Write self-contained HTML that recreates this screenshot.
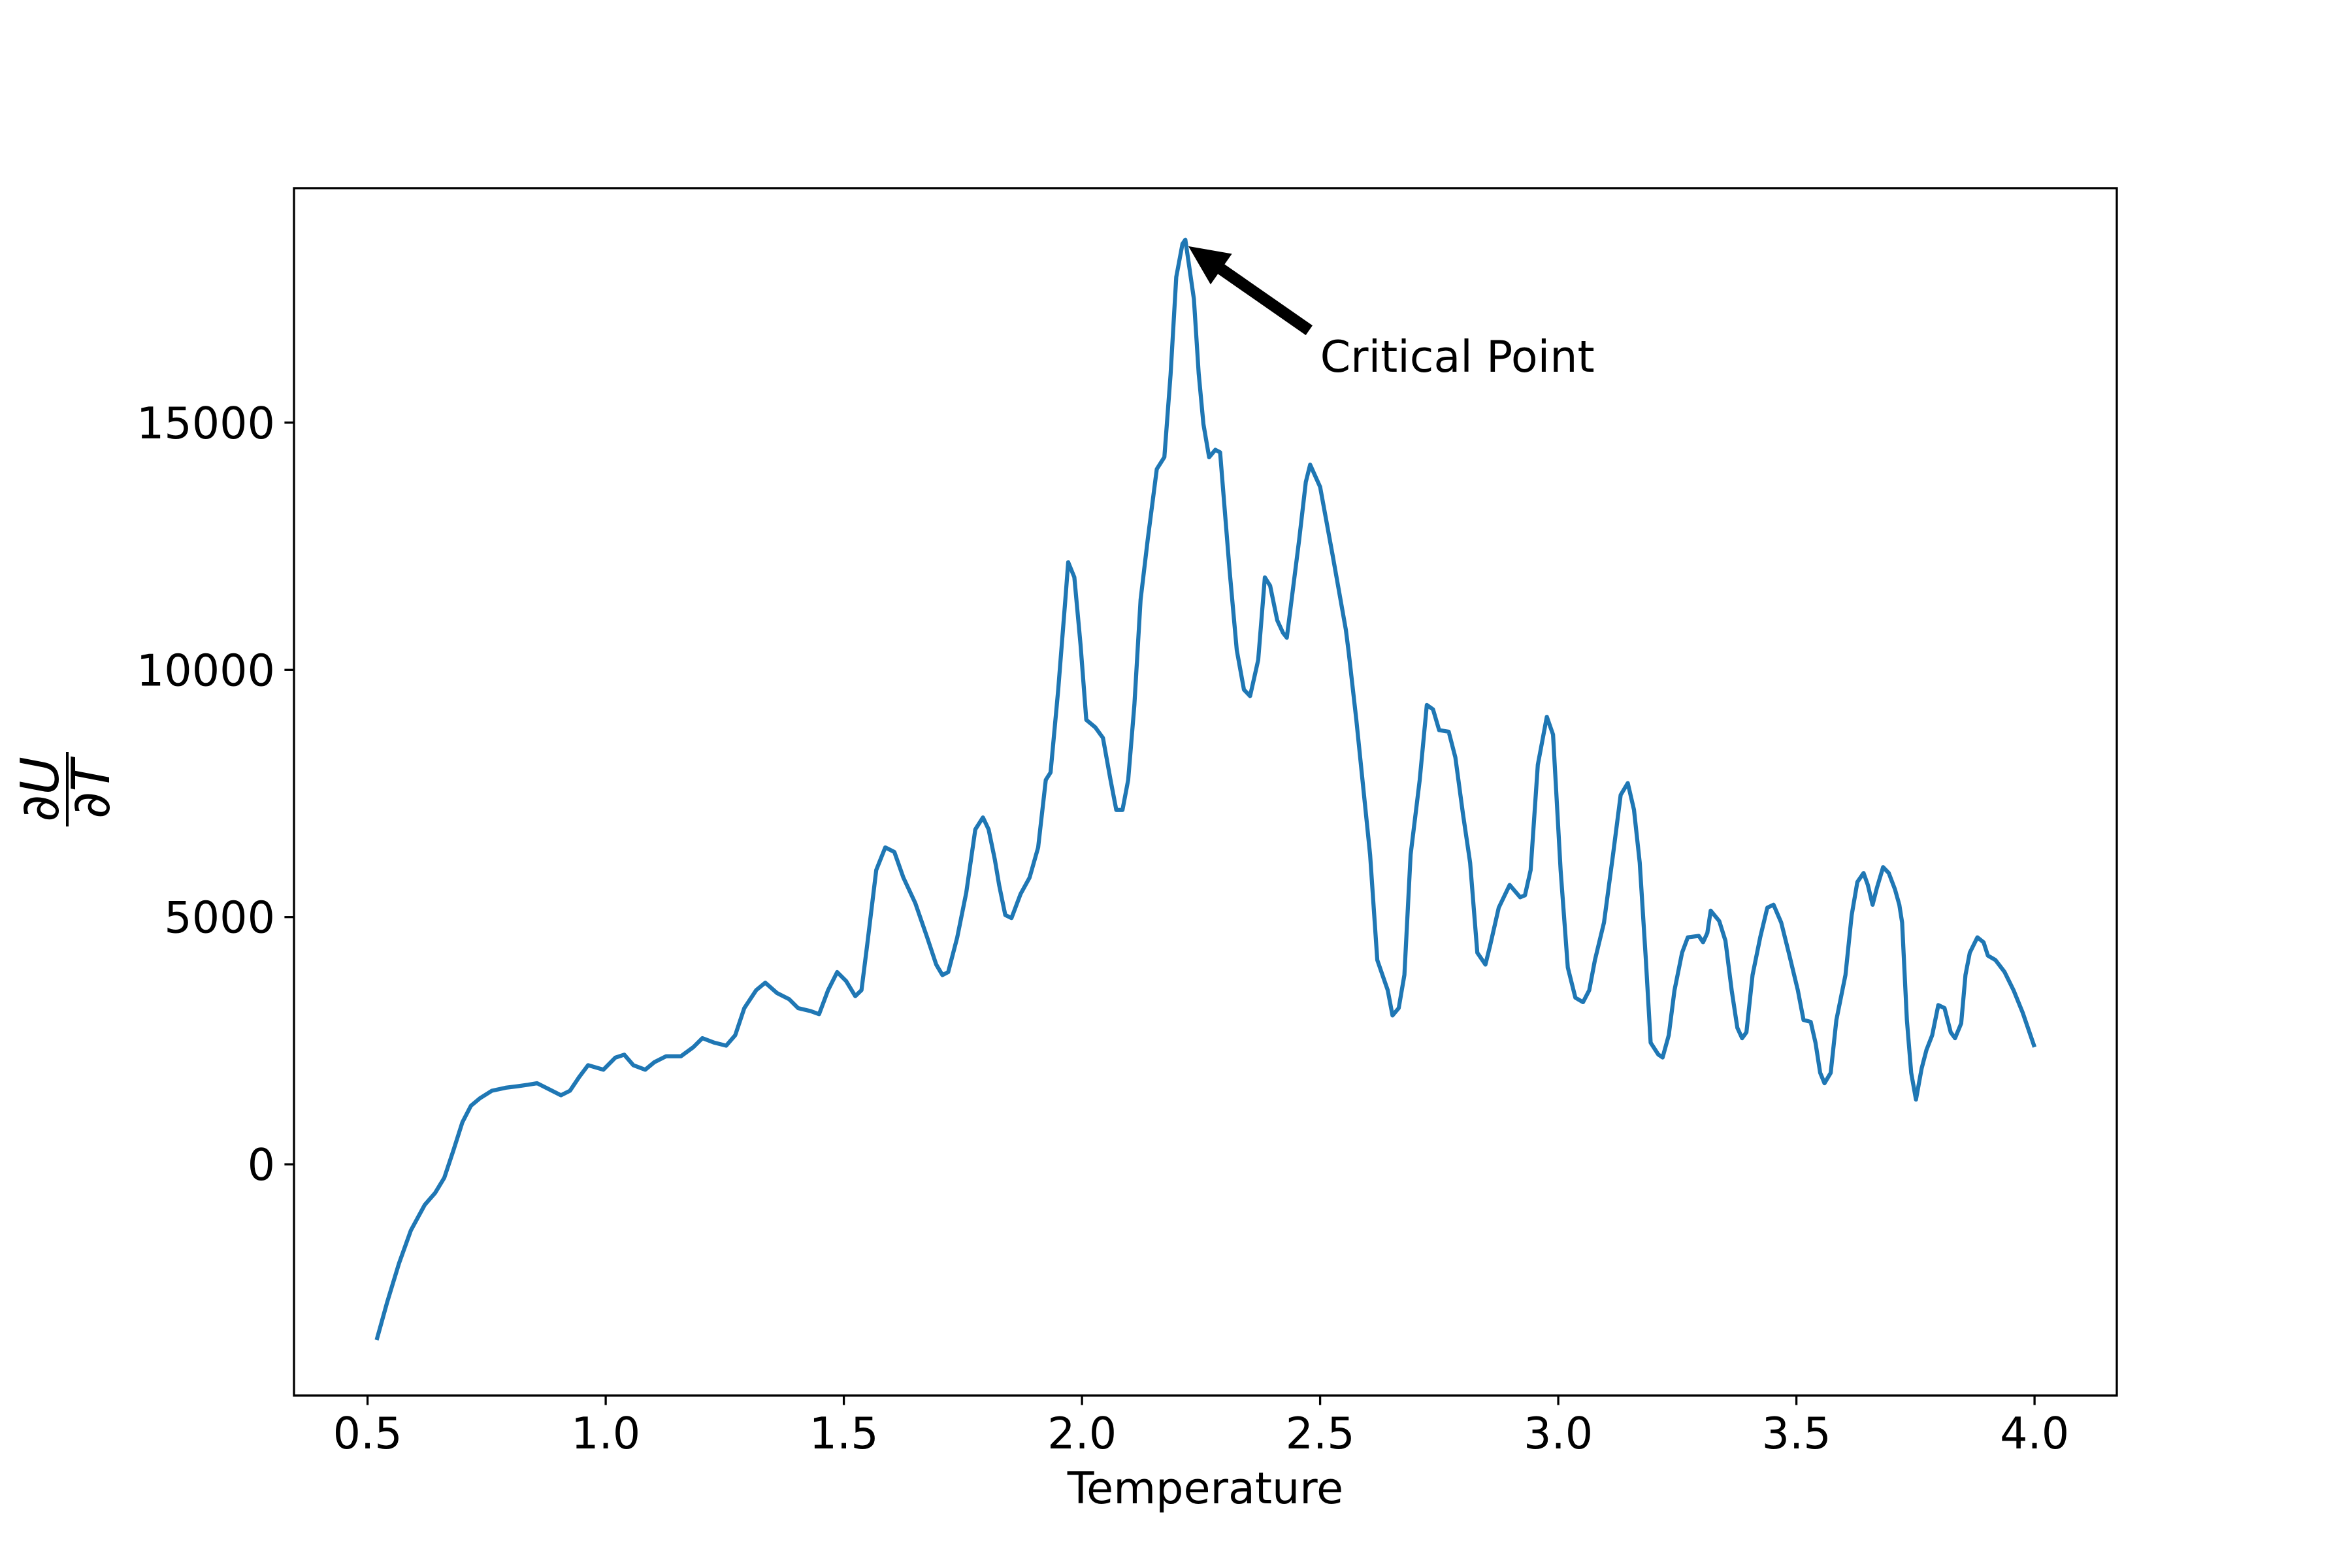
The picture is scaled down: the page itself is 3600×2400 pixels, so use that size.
<!DOCTYPE html>
<html><head><meta charset="utf-8"><style>
html,body{margin:0;padding:0;background:#fff;}
svg{display:block;font-family:"DejaVu Sans","Liberation Sans",sans-serif;}
</style></head><body>
<svg id="chart" width="3600" height="2400" viewBox="0 0 3600 2400" xmlns="http://www.w3.org/2000/svg">
<rect width="3600" height="2400" fill="#fff"/>
<g id="plot"></g>
<g id="xticks"></g>
<g id="yticks"></g>
<rect x="450" y="288" width="2790" height="1848" fill="none" stroke="#000" stroke-width="3.3"/>
<text x="1845" y="2301" font-size="66.7" text-anchor="middle">Temperature</text>
<g transform="translate(103,1208) rotate(-90)">
<text x="0" y="-14" font-size="80" text-anchor="middle" font-family="DejaVu Sans, sans-serif">∂<tspan font-style="italic">U</tspan></text>
<line x1="-57" y1="0" x2="57" y2="0" stroke="#000" stroke-width="4"/>
<text x="0" y="64" font-size="80" text-anchor="middle" font-family="DejaVu Sans, sans-serif">∂<tspan font-style="italic">T</tspan></text>
</g>
<g id="annot"></g>
</svg>
<script>
const temps=[0.519,0.541,0.566,0.591,0.62,0.642,0.661,0.68,0.699,0.717,0.736,0.761,0.79,0.815,0.837,0.856,0.881,0.906,0.925,0.944,0.963,0.995,1.02,1.039,1.058,1.083,1.102,1.127,1.158,1.184,1.203,1.228,1.253,1.272,1.291,1.316,1.335,1.36,1.385,1.404,1.43,1.448,1.467,1.486,1.505,1.524,1.537,1.549,1.568,1.587,1.606,1.625,1.65,1.675,1.694,1.707,1.719,1.738,1.757,1.776,1.792,1.804,1.817,1.826,1.839,1.852,1.871,1.89,1.908,1.924,1.934,1.95,1.965,1.971,1.984,1.997,2.009,2.028,2.044,2.06,2.072,2.085,2.097,2.11,2.123,2.138,2.157,2.173,2.186,2.198,2.211,
2.217,2.235,2.245,2.255,2.267,2.28,2.29,2.31,2.325,2.34,2.353,2.37,2.384,2.395,2.41,2.422,2.43,2.456,2.47,2.479,2.5,2.526,2.554,2.56,2.576,2.605,2.62,2.642,2.652,2.665,2.677,2.69,2.709,2.724,2.737,2.75,2.77,2.784,2.8,2.815,2.83,2.847,2.857,2.875,2.898,2.92,2.93,2.942,2.957,2.976,2.989,3.005,3.02,3.036,3.052,3.065,3.077,3.096,3.115,3.131,3.146,3.159,3.171,3.184,3.194,3.21,3.219,3.232,3.244,3.26,3.272,3.295,3.304,3.313,3.32,3.338,3.351,3.364,3.376,3.386,3.395,3.408,3.424,3.439,3.452,3.468,3.484,3.503,3.515,3.53,3.54,3.55,3.559,3.572,3.584,3.603,3.616,3.628,3.641,3.65,3.66,3.669,3.682,3.694,3.707,3.716,3.722,3.732,3.741,3.751,3.763,3.773,3.785,3.798,3.811,3.824,3.833,3.846,3.855,3.864,3.88,3.893,3.902,3.918,3.937,3.956,3.975,4.0];
const dUdT=[-3553,-2794,-2004,-1336,-820,-577,-273,273,850,1184,1336,1488,1549,1579,1610,1640,1518,1397,1488,1761,2004,1913,2156,2217,2004,1913,2065,2186,2186,2369,2551,2460,2399,2612,3158,3523,3674,3462,3340,3158,3098,3037,3523,3887,3705,3401,3523,4434,5952,6408,6316,5800,5284,4586,4039,3826,3887,4586,5497,6772,7015,6772,6164,5648,5041,4980,5466,5800,6408,7774,7926,9596,11418,12178,11874,10507,8989,8837,8624,7774,7167,7167,7774,9292,11418,12633,14060,14303,15973,17947,18615,
18700,17500,16000,14970,14300,14450,14400,12000,10400,9600,9470,10200,11870,11700,11000,10750,10650,12630,13800,14150,13700,12330,10810,10360,8990,6260,4130,3520,3010,3160,3830,6260,7770,9290,9200,8780,8750,8230,7080,6100,4280,4040,4430,5190,5650,5400,5440,5950,8080,9050,8690,5950,3980,3370,3280,3520,4130,4890,6260,7470,7710,7170,6100,4130,2460,2220,2160,2610,3520,4280,4590,4620,4490,4680,5130,4920,4520,3520,2760,2550,2670,3830,4590,5190,5250,4890,4280,3520,2920,2880,2460,1850,1640,1850,2920,3830,5040,5710,5890,5650,5250,5590,6010,5890,5560,5250,4890,2920,1850,1310,1940,2310,2610,3220,3160,2670,2550,2850,3830,4280,4590,4490,4220,4130,3890,3520,3070,2370];
const xTickVals=[0.5,1.0,1.5,2.0,2.5,3.0,3.5,4.0];
const xTickLabels=["0.5","1.0","1.5","2.0","2.5","3.0","3.5","4.0"];
const yTickVals=[0,5000,10000,15000];
const yTickLabels=["0","5000","10000","15000"];
const annotTip=[2.226,18550];
const annotText=[2.5,16030];

const NS="http://www.w3.org/2000/svg";
function xs(t){return 562.6+(t-0.5)*729.0;}
function ys(v){return 1782.1-v*0.07568;}
function mk(tag,attrs,parent){const e=document.createElementNS(NS,tag);for(const k in attrs)e.setAttribute(k,attrs[k]);parent.appendChild(e);return e;}

const plot=document.getElementById('plot');
let d='';
const n=Math.min(temps.length,dUdT.length);
for(let i=0;i<n;i++){d+=(i?'L':'M')+xs(temps[i]).toFixed(1)+','+ys(dUdT[i]).toFixed(1);}
const line=mk('path',{d:d,fill:'none',stroke:'#1f77b4','stroke-width':6.25,'stroke-linejoin':'round','stroke-linecap':'butt'},plot);



const xg=document.getElementById('xticks');
xTickVals.forEach((v,i)=>{
  const x=xs(v);
  const t=mk('line',{x1:x,y1:2136,x2:x,y2:2150.6,stroke:'#000','stroke-width':3.3},xg);
  
  
  const l=mk('text',{x:x,y:2217,'font-size':66.7,'text-anchor':'middle'},xg);
  l.textContent=xTickLabels[i];
  
  
});
const yg=document.getElementById('yticks');
yTickVals.forEach((v,i)=>{
  const y=ys(v);
  const t=mk('line',{x1:435.4,y1:y,x2:450,y2:y,stroke:'#000','stroke-width':3.3},yg);
  
  
  const l=mk('text',{x:421,y:y+24,'font-size':66.7,'text-anchor':'end'},yg);
  l.textContent=yTickLabels[i];
  
  
});

const ag=document.getElementById('annot');
const tx=xs(annotTip[0]),ty=ys(annotTip[1]);
const sx=2003,sy=505;
const dx=tx-sx,dy=ty-sy,L=Math.hypot(dx,dy),ux=dx/L,uy=dy/L,px=-uy,py=ux;
const hl=58,hw=27,sw=8;
const bx=tx-ux*hl,by=ty-uy*hl;
const pts=[[sx+px*sw,sy+py*sw],[bx+px*sw,by+py*sw],[bx+px*hw,by+py*hw],[tx,ty],[bx-px*hw,by-py*hw],[bx-px*sw,by-py*sw],[sx-px*sw,sy-py*sw]];
const arrow=mk('polygon',{points:pts.map(p=>p[0].toFixed(1)+','+p[1].toFixed(1)).join(' '),fill:'#000',stroke:'#000','stroke-width':2,'stroke-linejoin':'miter'},ag);


const at=mk('text',{x:xs(annotText[0]),y:ys(annotText[1]),'font-size':66.7},ag);
at.textContent='Critical Point';


</script>
</body></html>
